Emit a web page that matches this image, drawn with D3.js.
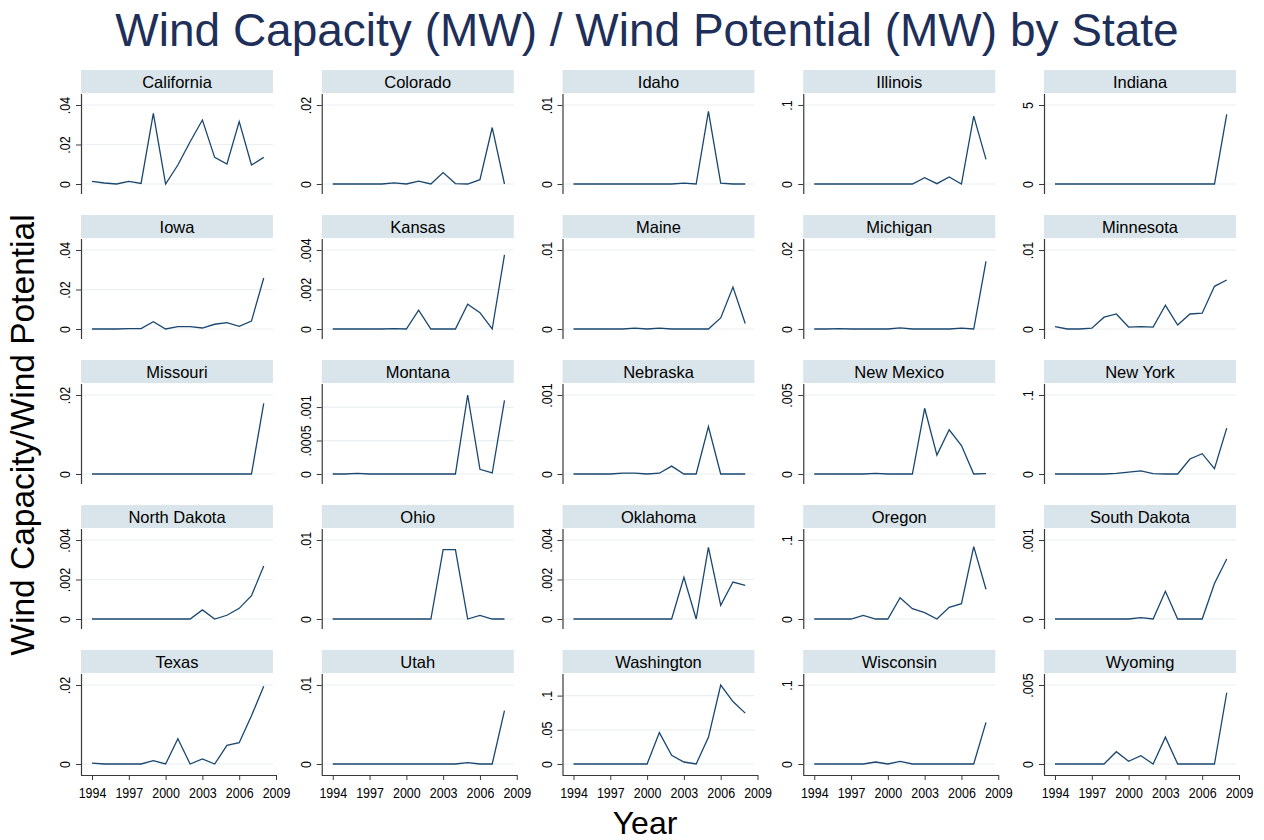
<!DOCTYPE html>
<html>
<head>
<meta charset="utf-8">
<script src="https://cdn.jsdelivr.net/npm/d3@7"></script>
<style>
  html, body { margin: 0; padding: 0; background: #ffffff; }
  svg { display: block; }
  text { font-family: "Liberation Sans", Arial, Helvetica, sans-serif; }
</style>
</head>
<body>
<svg id="chart" width="1264" height="840"></svg>
<script>
// ---------------- DATA ----------------
const years = [1994, 1995, 1996, 1997, 1998, 1999, 2000, 2001, 2002, 2003, 2004, 2005, 2006, 2007, 2008];
const xTickValues = [1994, 1997, 2000, 2003, 2006, 2009];

const states = ["California", "Colorado", "Idaho", "Illinois", "Indiana",
                "Iowa", "Kansas", "Maine", "Michigan", "Minnesota",
                "Missouri", "Montana", "Nebraska", "New Mexico", "New York",
                "North Dakota", "Ohio", "Oklahoma", "Oregon", "South Dakota",
                "Texas", "Utah", "Washington", "Wisconsin", "Wyoming"];

const california  = [0.0013, 0.0005, 0, 0.0013, 0.0003, 0.0358, 0, 0.0096, 0.0214, 0.0324, 0.0135, 0.0101, 0.0316, 0.0096, 0.0135];
const colorado    = [0, 0, 0, 0, 0, 0.0003, 0, 0.0007, 0, 0.0029, 0.0001, 0, 0.0011, 0.0143, 0];
const idaho       = [0, 0, 0, 0, 0, 0, 0, 0, 0, 0.0001, 0, 0.0092, 0.0001, 0, 0];
const illinois    = [0, 0, 0, 0, 0, 0, 0, 0, 0, 0.008, 0.0004, 0.0089, 0, 0.086, 0.0312];
const indiana     = [0, 0, 0, 0, 0, 0, 0, 0, 0, 0, 0, 0, 0, 0, 4.41];
const iowa        = [0, 0, 0, 0.0002, 0.0002, 0.0037, 0, 0.0012, 0.0012, 0.0005, 0.0024, 0.0032, 0.0013, 0.004, 0.0258];
const kansas      = [0, 0, 0, 0, 0, 0.00002, 0, 0.00095, 0, 0, 0, 0.00125, 0.00083, 0, 0.00375];
const maine       = [0, 0, 0, 0, 0, 0.0001, 0, 0.0001, 0, 0, 0, 0, 0.0014, 0.0053, 0.0007];
const michigan    = [0, 0, 0.0001, 0, 0, 0, 0, 0.0003, 0, 0, 0, 0, 0.0002, 0, 0.0171];
const minnesota   = [0.0003, 0, 0, 0.0001, 0.0015, 0.0019, 0.00025, 0.0003, 0.00025, 0.003, 0.0005, 0.0019, 0.002, 0.0054, 0.0062];
const missouri    = [0, 0, 0, 0, 0, 0, 0, 0, 0, 0, 0, 0, 0, 0, 0.0179];
const montana     = [0, 0, 0.00001, 0, 0, 0, 0, 0, 0, 0, 0, 0.00118, 0.00007, 0.000015, 0.0011];
const nebraska    = [0, 0, 0, 0, 0.00001, 0.00001, 0, 0.00001, 0.0001, 0, 0, 0.0006, 0, 0, 0];
const newMexico   = [0, 0, 0, 0, 0, 0.00004, 0, 0, 0, 0.00416, 0.0012, 0.0028, 0.0018, 0, 0.00002];
const newYork     = [0, 0, 0, 0, 0, 0.0008, 0.0025, 0.004, 0.0004, 0, 0, 0.019, 0.0257, 0.0068, 0.058];
const northDakota = [0, 0, 0, 0, 0, 0, 0, 0, 0, 0.00046, 0, 0.00019, 0.00054, 0.00118, 0.00268];
const ohio        = [0, 0, 0, 0, 0, 0, 0, 0, 0, 0.00878, 0.00878, 0, 0.00046, 0, 0];
const oklahoma    = [0, 0, 0, 0, 0, 0, 0, 0, 0, 0.00211, 0, 0.00363, 0.00069, 0.00187, 0.0017];
const oregon      = [0, 0, 0, 0, 0.0046, 0, 0, 0.027, 0.013, 0.008, 0, 0.0148, 0.0194, 0.0916, 0.0376];
const southDakota = [0, 0, 0, 0, 0, 0, 0, 0.000017, 0, 0.00035, 0, 0, 0, 0.00045, 0.00076];
const texas       = [0.0002, 0, 0, 0, 0, 0.00084, 0, 0.0064, 0, 0.0013, 0, 0.0047, 0.0054, 0.0122, 0.0197];
const utah        = [0, 0, 0, 0, 0, 0, 0, 0, 0, 0, 0, 0.00017, 0, 0, 0.00675];
const washington  = [0, 0, 0, 0, 0, 0, 0, 0.0459, 0.0126, 0.0029, 0, 0.039, 0.1155, 0.0913, 0.0744];
const wisconsin   = [0, 0, 0, 0, 0, 0.0025, 0, 0.0034, 0, 0, 0, 0, 0, 0, 0.0527];
const wyoming     = [0, 0, 0, 0, 0, 0.00078, 0.00017, 0.00053, 0, 0.0017, 0, 0, 0, 0, 0.00451];

const seriesValues = [california, colorado, idaho, illinois, indiana,
                      iowa, kansas, maine, michigan, minnesota,
                      missouri, montana, nebraska, newMexico, newYork,
                      northDakota, ohio, oklahoma, oregon, southDakota,
                      texas, utah, washington, wisconsin, wyoming];

const yTickSets = [[0, 0.02, 0.04], [0, 0.02], [0, 0.01], [0, 0.1], [0, 5],
                   [0, 0.02, 0.04], [0, 0.002, 0.004], [0, 0.01], [0, 0.02], [0, 0.01],
                   [0, 0.02], [0, 0.0005, 0.001], [0, 0.001], [0, 0.005], [0, 0.1],
                   [0, 0.002, 0.004], [0, 0.01], [0, 0.002, 0.004], [0, 0.1], [0, 0.001],
                   [0, 0.02], [0, 0.01], [0, 0.05, 0.1], [0, 0.1], [0, 0.005]];

const titleText = "Wind Capacity (MW) / Wind Potential (MW) by State";
const yTitleText = "Wind Capacity/Wind Potential";
const xTitleText = "Year";

// ---------------- LAYOUT ----------------
const svg = d3.select("#chart");
const nCols = 5;
const col0 = 81, colStep = 240.75;
const row0 = 70, rowStep = 145;
const stripW = 192, stripH = 23;
const plotTop = 24, plotBottom = 124;
const zeroOff = 114, topOff = 35;
const lineColor = "#1a476f";
const stripColor = "#d9e5eb";
const gridColor = "#e8f0f1";
const axisColor = "#3a3a3a";

const fmtY = v => (v === 0 ? "0" : String(v).replace(/^0\./, "."));

svg.append("rect").attr("width", 1264).attr("height", 840).attr("fill", "#ffffff");

// Title
svg.append("text")
  .attr("x", 647).attr("y", 46)
  .attr("text-anchor", "middle")
  .attr("font-size", 46)
  .attr("fill", "#1e2f5a")
  .text(titleText);

// Y axis title
svg.append("text")
  .attr("transform", "translate(34,435) rotate(-90)")
  .attr("text-anchor", "middle")
  .attr("font-size", 33.5)
  .attr("fill", "#000")
  .text(yTitleText);

// X axis title
svg.append("text")
  .attr("x", 645).attr("y", 834)
  .attr("text-anchor", "middle")
  .attr("font-size", 32)
  .attr("fill", "#000")
  .text(xTitleText);

const x = d3.scaleLinear().domain([1994, 2009]).range([11, 195]);

states.forEach((name, i) => {
  const c = i % nCols, r = Math.floor(i / nCols);
  const values = seriesValues[i];
  const ticks = yTickSets[i];
  const top = Math.max(d3.max(ticks), d3.max(values));
  const y = d3.scaleLinear().domain([0, top]).range([zeroOff, topOff]);

  const g = svg.append("g")
    .attr("transform", `translate(${col0 + c * colStep},${row0 + r * rowStep})`);

  // header strip
  g.append("rect")
    .attr("x", 0).attr("y", 0).attr("width", stripW).attr("height", stripH)
    .attr("fill", stripColor);
  g.append("text")
    .attr("x", stripW / 2).attr("y", 17.5)
    .attr("text-anchor", "middle")
    .attr("font-size", 16.5)
    .attr("fill", "#000")
    .text(name);

  // gridlines
  g.append("g").selectAll("line").data(ticks).join("line")
    .attr("x1", 1).attr("x2", stripW)
    .attr("y1", d => y(d)).attr("y2", d => y(d))
    .attr("stroke", gridColor).attr("stroke-width", 1.2);

  // y axis ticks & labels
  const yAxis = g.append("g")
    .call(d3.axisLeft(y).tickValues(ticks).tickSize(5).tickSizeOuter(0).tickFormat(fmtY));
  yAxis.select(".domain").remove();
  yAxis.selectAll(".tick line").attr("stroke", axisColor);
  yAxis.selectAll(".tick text")
    .attr("x", null).attr("dy", null).attr("y", null)
    .attr("transform", "translate(-11,0) rotate(-90) scale(0.86,1)")
    .attr("text-anchor", "middle")
    .attr("font-size", 14.5)
    .attr("font-family", "'Liberation Sans', Arial, sans-serif")
    .attr("fill", "#000");

  // y axis line
  g.append("line")
    .attr("x1", 0.5).attr("x2", 0.5)
    .attr("y1", plotTop).attr("y2", r === 4 ? plotBottom + 1 : plotBottom)
    .attr("stroke", axisColor).attr("stroke-width", 1.2);

  // x axis on bottom row
  if (r === 4) {
    const xAxis = g.append("g")
      .attr("transform", `translate(0,${plotBottom + 1})`)
      .call(d3.axisBottom(x).tickValues(xTickValues).tickSize(5).tickSizeOuter(0).tickFormat(d3.format("d")));
    xAxis.select(".domain").remove();
    xAxis.selectAll(".tick line").attr("stroke", axisColor);
    xAxis.selectAll(".tick text")
      .attr("y", null).attr("dy", null)
      .attr("transform", "translate(0,23) scale(0.86,1)")
      .attr("font-size", 14.5)
      .attr("font-family", "'Liberation Sans', Arial, sans-serif")
      .attr("fill", "#000");
    g.append("line")
      .attr("x1", 0).attr("x2", 195.5)
      .attr("y1", plotBottom + 1.5).attr("y2", plotBottom + 1.5)
      .attr("stroke", axisColor).attr("stroke-width", 1.2);
  }

  // series line
  const line = d3.line()
    .x((d, j) => x(years[j]))
    .y(d => y(d));
  g.append("path")
    .datum(values)
    .attr("d", line)
    .attr("fill", "none")
    .attr("stroke", lineColor)
    .attr("stroke-width", 1.3)
    .attr("stroke-linejoin", "miter");
});
</script>
</body>
</html>
